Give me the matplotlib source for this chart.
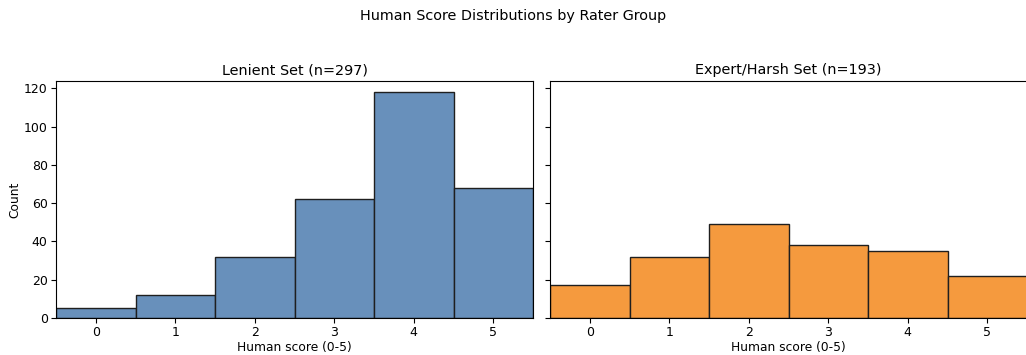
import numpy as np
import matplotlib.pyplot as plt

scores = [0, 1, 2, 3, 4, 5]
lenient_counts = [5, 12, 32, 62, 118, 68]
harsh_counts = [17, 32, 49, 38, 35, 22]

groups = [
    ("Lenient Set", lenient_counts, "#6890bb"),
    ("Expert/Harsh Set", harsh_counts, "#f59a3e"),
]

fig = plt.figure(figsize=(10.26, 3.55), dpi=100)
ax1 = fig.add_axes([56/1026, 37/355, 477/1026, 237/355])
ax2 = fig.add_axes([550/1026, 37/355, 477/1026, 237/355], sharey=ax1)

for ax, (name, counts, color) in zip([ax1, ax2], groups):
    n = sum(counts)
    ax.bar(scores, counts, width=1.0, color=color, edgecolor="#1f1f1f", linewidth=1.0)
    ax.set_xlim(-0.5, 5.5)
    ax.set_xticks(scores)
    ax.set_title(f"{name} (n={n})", fontsize=10.4, pad=5)
    ax.set_xlabel("Human score (0-5)", fontsize=8.8, labelpad=1.5)

ax1.set_ylim(0, max(lenient_counts) * 1.05)
ax1.set_ylabel("Count", fontsize=8.8, labelpad=2)
ax1.set_yticks([0, 20, 40, 60, 80, 100, 120])
plt.setp(ax2.get_yticklabels(), visible=False)
for ax in (ax1, ax2):
    ax.tick_params(labelsize=9, pad=2.5)

fig.suptitle("Human Score Distributions by Rater Group", fontsize=10.4, y=0.975)
fig.savefig("out.png", dpi=100)
